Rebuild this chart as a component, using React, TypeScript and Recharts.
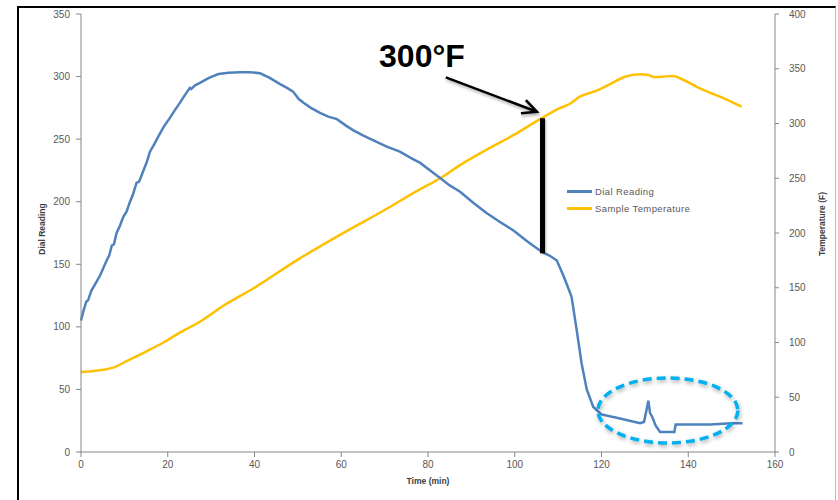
import React from 'react';
import {
    LineChart,
    Line,
    XAxis,
    YAxis,
    Legend,
    ReferenceLine,
    ReferenceDot,
} from 'recharts';

// Dial reading (left axis) vs time
const dialTime = [
    0, 0.5, 1.2, 1.6, 2.4, 3.4, 4.4, 5.9, 6.5, 7.1, 7.6, 8.2, 9.0, 9.75, 10.5, 11.3, 12.0, 12.8, 13.4,
    14.4, 15.2, 15.9, 16.9, 17.8, 19.1, 20.5, 21.6, 22.8, 23.9, 25.1, 25.4, 26.3, 27.4, 29.5, 31.7, 34,
    36.7, 39, 41.3, 43.5, 45.9, 47.5, 48.9, 50.2, 51.3, 53, 55.1, 57, 59, 61, 62.8, 65, 67.4, 70.5, 73.5,
    76, 78.2, 80.5, 82.8, 85, 87.4, 90.5, 93.5, 96.5, 99.7, 103, 106.2, 108, 109.7, 111.2, 112, 113.1,
    114.3, 115.4, 116.6, 118.1, 120, 124, 128.9, 129.8, 130.4, 130.8, 131.2, 131.7, 132.5, 133.5, 135.5,
    136.8, 137.1, 140, 145, 150, 152.5,
];
const dialReading = [
    105, 112, 120, 121, 129, 135, 141, 153, 157, 165, 166, 175, 181, 188, 192, 200, 206, 215, 216,
    225, 232, 240, 246, 252, 260, 267, 273, 279, 285, 291, 290, 293, 295, 299, 302, 303,
    303.5, 303.5, 302.6, 299, 294, 291, 288, 282, 279, 275, 271, 268, 266, 261, 257, 253, 249, 244, 240,
    235, 231, 225, 219, 213, 208, 199, 191, 184, 177, 168, 160, 157, 153, 141, 134, 124,
    97, 71, 50, 36, 30, 27, 23, 24, 34, 41, 31, 28, 21, 16, 16,
    16, 22, 22, 22, 23, 23,
];

// Sample temperature (right axis, °F) vs time
const tempTime = [
    0, 3, 7.4, 11, 15.1, 19, 22.8, 27.4, 33, 40, 49.7, 60, 70, 78.2, 82.8, 87.4, 93.5, 100, 105.8,
    110.4, 112.7, 115, 118.9, 122, 125.4, 128.9, 130.8, 132.3, 134.5, 136.6, 138.1, 142.7, 147.3, 152.3,
];
const tempValue = [
    73, 74, 77, 84, 92, 100, 109, 119, 134, 150, 175, 199, 221, 240, 250, 262, 276, 290, 304,
    314, 318, 324.5, 330, 336, 342.7, 345, 344.3, 342.2, 343, 343.4, 341.3, 332, 324.5, 315.3,
];

const timeTicks = [0, 20, 40, 60, 80, 100, 120, 140, 160];
const dialTicks = [0, 50, 100, 150, 200, 250, 300, 350];
const tempTicks = [0, 50, 100, 150, 200, 250, 300, 350, 400];

// annotation anchors (data coordinates, left axis)
const markTime = 106.4;
const markSpan = [158.8, 266.7];
const arrowFrom = { t: 84.1, v: 299.4 };
const arrowTo = { t: 105.1, v: 271.9 };
const calloutAt = { t: 78.6, v: 307.6 };
const calloutText = '300°F';
const circleAt = { t: 135.3, v: 33.2 };

const dialData = dialTime.map((t, i) => ({ t, v: dialReading[i] }));
const tempData = tempTime.map((t, i) => ({ t, v: tempValue[i] }));

const BLUE = '#4f81bd';
const GOLD = '#ffc000';
const AXIS = '#868686';
const FONT = '"Liberation Sans", Arial, sans-serif';
const tickStyle = { fill: '#595959', fontSize: 10, fontFamily: FONT };

const Arrow = (p: any) => {
    const { x1, y1, x2, y2 } = p;
    const a = Math.atan2(y2 - y1, x2 - x1);
    const len = 16;
    const spread = 0.45;
    const h1 = [x2 - len * Math.cos(a - spread), y2 - len * Math.sin(a - spread)];
    const h2 = [x2 - len * Math.cos(a + spread), y2 - len * Math.sin(a + spread)];
    return (
        <g style={{ filter: 'drop-shadow(1px 2px 1.5px rgba(0,0,0,0.35))' }}>
            <line x1={x1} y1={y1} x2={x2} y2={y2} stroke="#000" strokeWidth={2.5} />
            <polyline
                points={`${h1[0]},${h1[1]} ${x2},${y2} ${h2[0]},${h2[1]}`}
                fill="none"
                stroke="#000"
                strokeWidth={2.5}
            />
        </g>
    );
};

const Bar = (p: any) => (
    <line
        x1={p.x1}
        y1={p.y1}
        x2={p.x2}
        y2={p.y2}
        stroke="#000"
        strokeWidth={5}
        style={{ filter: 'drop-shadow(1px 1px 1px rgba(0,0,0,0.3))' }}
    />
);

const Callout = (p: any) => (
    <text
        x={p.cx}
        y={p.cy}
        textAnchor="middle"
        fontFamily='"Liberation Sans Narrow", "Arial Narrow", sans-serif'
        fontWeight="bold"
        fontSize={32}
        fill="#000"
    >
        {calloutText}
    </text>
);

const Ring = (p: any) => (
    <ellipse
        cx={p.cx}
        cy={p.cy}
        rx={70}
        ry={32.5}
        fill="none"
        stroke="#00b0f0"
        strokeWidth={3.5}
        strokeDasharray="9 5"
        style={{ filter: 'drop-shadow(1px 2px 2px rgba(0,0,0,0.35))' }}
    />
);

const AxisTitle = ({ viewBox, title, ox, oy, rot }: any) => {
    const x = viewBox.x + ox;
    const y = viewBox.y + oy;
    return (
        <text
            x={x}
            y={y}
            textAnchor="middle"
            dominantBaseline="central"
            transform={rot ? `rotate(${rot} ${x} ${y})` : undefined}
            fontFamily={FONT}
            fontWeight="bold"
            fontSize={8.5}
            fill="#404040"
        >
            {title}
        </text>
    );
};

const LegendBox = () => (
    <div style={{ fontFamily: FONT, fontSize: 9.5, color: '#595959', letterSpacing: 0.4 }}>
        {[
            { name: 'Dial Reading', color: BLUE },
            { name: 'Sample Temperature', color: GOLD },
        ].map((s) => (
            <div key={s.name} style={{ display: 'flex', alignItems: 'center', height: 17 }}>
                <span style={{ width: 25, height: 2.5, background: s.color, marginRight: 3 }} />
                <span>{s.name}</span>
            </div>
        ))}
    </div>
);

export default function App() {
    return (
        <div style={{ position: 'absolute', left: 0, top: 0, width: 838, height: 500, background: '#fff' }}>
            <div
                style={{
                    position: 'absolute',
                    left: 17,
                    top: 6,
                    width: 816,
                    height: 494,
                    borderTop: '2px solid #000',
                    borderLeft: '2px solid #000',
                    borderRight: '1px solid #bbb',
                }}
            />
            <LineChart
                width={838}
                height={500}
                margin={{ top: 14, right: 0, left: 0, bottom: 0 }}
                style={{ position: 'absolute', left: 0, top: 0 }}
            >
                <XAxis
                    dataKey="t"
                    type="number"
                    domain={[0, 160]}
                    ticks={timeTicks}
                    height={48}
                    tickSize={5}
                    tickMargin={4}
                    tick={tickStyle}
                    stroke={AXIS}
                    allowDuplicatedCategory={false}
                    label={<AxisTitle title="Time (min)" ox={347} oy={29} />}
                />
                <YAxis
                    yAxisId="left"
                    domain={[0, 350]}
                    ticks={dialTicks}
                    width={81}
                    tickSize={5}
                    tickMargin={6}
                    tick={tickStyle}
                    stroke={AXIS}
                    label={<AxisTitle title="Dial Reading" ox={42} oy={215} rot={-90} />}
                />
                <YAxis
                    yAxisId="right"
                    orientation="right"
                    domain={[0, 400]}
                    ticks={tempTicks}
                    width={63}
                    tickSize={4}
                    tickMargin={10}
                    tick={tickStyle}
                    stroke={AXIS}
                    label={<AxisTitle title="Temperature (F)" ox={47} oy={210} rot={-90} />}
                />
                <Legend
                    layout="vertical"
                    align="center"
                    verticalAlign="middle"
                    content={<LegendBox />}
                    wrapperStyle={{ position: 'absolute', left: 567, top: 183, width: 160 }}
                />
                <Line
                    yAxisId="right"
                    data={tempData}
                    dataKey="v"
                    name="Sample Temperature"
                    type="monotone"
                    stroke={GOLD}
                    strokeWidth={2.5}
                    dot={false}
                    isAnimationActive={false}
                />
                <Line
                    yAxisId="left"
                    data={dialData}
                    dataKey="v"
                    name="Dial Reading"
                    type="linear"
                    stroke={BLUE}
                    strokeWidth={2.5}
                    dot={false}
                    isAnimationActive={false}
                />
                <ReferenceLine
                    yAxisId="left"
                    segment={[
                        { x: markTime, y: markSpan[0] },
                        { x: markTime, y: markSpan[1] },
                    ]}
                    shape={Bar}
                />
                <ReferenceLine
                    yAxisId="left"
                    segment={[
                        { x: arrowFrom.t, y: arrowFrom.v },
                        { x: arrowTo.t, y: arrowTo.v },
                    ]}
                    shape={Arrow}
                />
                <ReferenceDot yAxisId="left" x={calloutAt.t} y={calloutAt.v} shape={Callout} />
                <ReferenceDot yAxisId="left" x={circleAt.t} y={circleAt.v} shape={Ring} />
            </LineChart>
        </div>
    );
}
